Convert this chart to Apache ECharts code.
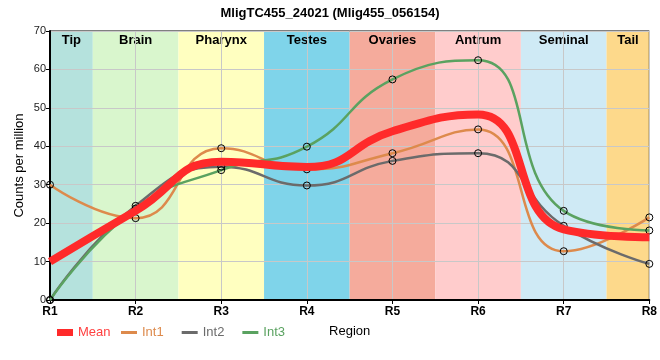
<!DOCTYPE html>
<html><head><meta charset="utf-8">
<script src="https://cdn.jsdelivr.net/npm/echarts@6/dist/echarts.min.js"></script>
<style>html,body{margin:0;padding:0;background:#fff}#c{width:660px;height:360px}</style>
</head><body><div id="c"></div>
<script>
const categories = ['R1','R2','R3','R4','R5','R6','R7','R8'];
const meanValues = [10, 23.2, 36, 34.6, 43.9, 48.3, 18.4, 16.3];
const int1Values = [30, 21.3, 39.5, 34, 38.2, 44.4, 12.7, 21.5];
const int2Values = [0, 24.5, 34.7, 29.8, 36.2, 38.2, 19.3, 9.4];
const int3Values = [0, 23.8, 33.8, 39.9, 57.4, 62.4, 23.2, 18.1];
const regionNames = ['Tip','Brain','Pharynx','Testes','Ovaries','Antrum','Seminal','Tail'];
const regionStarts = [0, 0.5, 1.5, 2.5, 3.5, 4.5, 5.5, 6.5];
const regionEnds = [0.5, 1.5, 2.5, 3.5, 4.5, 5.5, 6.5, 7];
const regionColors = ['#b5e2dd','#d9f6cd','#ffffc0','#7fd4ea','#f5ab9c','#ffcccc','#cfeaf5','#fdd98b'];
const yTicks = [0, 10, 20, 30, 40, 50, 60, 70];
const colors = {Mean: '#ff2a2a', Int1: '#dd8a4c', Int2: '#6b6b6b', Int3: '#5aa260'};

const pts = arr => arr.map((v, i) => [i, v]);
const font = 'Liberation Sans, Arial, sans-serif';

const bands = regionNames.map((n, i) => [
  {xAxis: regionStarts[i], yAxis: 70, name: n, itemStyle: {color: regionColors[i], opacity: 1}},
  {xAxis: regionEnds[i], yAxis: 0}
]);

const chart = echarts.init(document.getElementById('c'), null, {renderer: 'canvas'});
const lineSeries = (name, data, width, sym) => ({
  name, type: 'line', data: pts(data), smooth: 0.5,
  showSymbol: sym, symbol: 'circle', symbolSize: 7,
  itemStyle: {color: 'rgba(255,255,255,0)', borderColor: '#000', borderWidth: 1},
  lineStyle: {color: colors[name], width},
  clip: false, z: 3, animation: false
});
const legItem = (name, textColor) => ({name, textStyle: {color: textColor},
  itemStyle: {color: colors[name], borderWidth: 0, opacity: 1}});
chart.setOption({
  animation: false,
  title: {text: 'MligTC455_24021 (Mlig455_056154)', left: 'center', top: 2,
    textStyle: {fontFamily: font, fontSize: 13, fontWeight: 'bold', color: '#000'}},
  grid: {left: 50, right: 10, top: 31, bottom: 60, show: true, borderColor: '#000', borderWidth: 1, z: 1.5},
  legend: [
    {data: [legItem('Mean', '#ff4040')], left: 52, top: 321, icon: 'rect', itemWidth: 16, itemHeight: 7,
      textStyle: {fontFamily: font, fontSize: 13}},
    {data: [legItem('Int1', '#dd8a4c'), legItem('Int2', '#6b6b6b'), legItem('Int3', '#5aa260')],
      left: 116, top: 321, icon: 'rect', itemWidth: 16, itemHeight: 3, itemGap: 18,
      textStyle: {fontFamily: font, fontSize: 13}}
  ],
  xAxis: {type: 'value', min: 0, max: 7, interval: 1, z: 1.5,
    name: 'Region', nameLocation: 'middle', nameGap: 25,
    nameTextStyle: {fontFamily: font, fontSize: 13, color: '#000'},
    axisLine: {lineStyle: {color: '#000', width: 2}},
    axisTick: {show: true, length: 4, lineStyle: {color: '#000'}},
    axisLabel: {formatter: v => categories[v] || '', fontFamily: font, fontSize: 12, fontWeight: 'bold', color: '#000', margin: 6},
    splitLine: {show: true, lineStyle: {color: '#c8c8c8', width: 1}}
  },
  yAxis: {type: 'value', min: yTicks[0], max: yTicks[yTicks.length - 1], interval: 10, z: 1.5,
    name: 'Counts per million', nameLocation: 'middle', nameGap: 24, nameMoveOverlap: false,
    nameTextStyle: {fontFamily: font, fontSize: 13, color: '#000'},
    axisLine: {show: true, lineStyle: {color: '#000', width: 2}},
    axisTick: {show: true, length: 4, lineStyle: {color: '#000'}},
    axisLabel: {fontFamily: font, fontSize: 11, color: '#222', margin: 4},
    splitLine: {show: true, lineStyle: {color: '#c8c8c8', width: 1}}
  },
  series: [
    {type: 'line', data: [], silent: true, z: 1,
      markArea: {silent: true, z: 1, data: bands,
        label: {show: true, position: 'insideTop', distance: 3, fontFamily: font, fontSize: 13, fontWeight: 'bold', color: '#000'}}},
    lineSeries('Int1', int1Values, 2.5, true),
    lineSeries('Int2', int2Values, 2.5, true),
    lineSeries('Int3', int3Values, 2.5, true),
    Object.assign(lineSeries('Mean', meanValues, 8, false), {z: 4, itemStyle: {color: colors.Mean}})
  ]
});
</script></body></html>
